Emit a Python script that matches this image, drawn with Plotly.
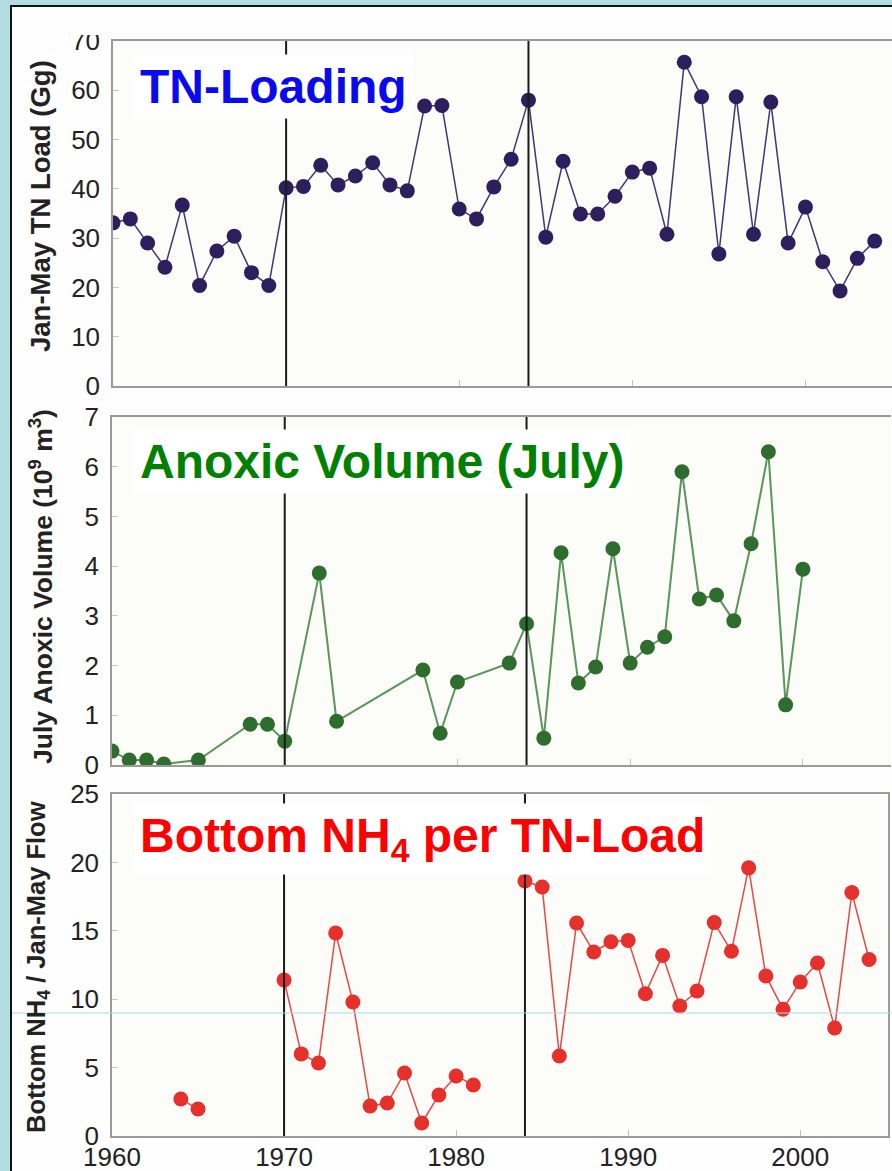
import plotly.graph_objects as go

# ---------------- data ----------------
tn_years = list(range(1960, 2005))
tn_load = [33.1, 33.9, 29.0, 24.1, 36.7, 20.4, 27.4, 30.4, 23.0, 20.4,
           40.2, 40.5, 44.8, 40.8, 42.6, 45.3, 40.8, 39.6, 56.8, 56.9,
           35.9, 33.9, 40.4, 46.0, 58.0, 30.2, 45.6, 34.9, 34.9, 38.5,
           43.4, 44.2, 30.8, 65.7, 58.7, 26.8, 58.7, 30.8, 57.6, 29.0,
           36.3, 25.2, 19.3, 25.9, 29.4]

anox_years = [1960, 1961, 1962, 1963, 1965, 1968, 1969, 1970, 1972, 1973,
              1978, 1979, 1980, 1983, 1984, 1985, 1986, 1987, 1988, 1989,
              1990, 1991, 1992, 1993, 1994, 1995, 1996, 1997, 1998, 1999, 2000]
anox_vol = [0.28, 0.10, 0.10, 0.02, 0.10, 0.82, 0.82, 0.48, 3.86, 0.88,
            1.91, 0.64, 1.67, 2.05, 2.84, 0.54, 4.27, 1.65, 1.97, 4.35,
            2.05, 2.37, 2.58, 5.90, 3.34, 3.42, 2.90, 4.45, 6.30, 1.21, 3.94]

nh4_years = list(range(1964, 2005))
nh4_ratio = [2.7, 1.97, None, None, None, None,
             11.4, 6.0, 5.34, 14.84, 9.8, 2.19, 2.41, 4.6, 0.95, 3.0,
             4.39, 3.73, None, None, 18.64, 18.2, 5.85, 15.57, 13.45, 14.2,
             14.3, 10.4, 13.2, 9.5, 10.6, 15.6, 13.5, 19.6, 11.7, 9.27,
             11.26, 12.65, 7.9, 17.8, 12.9]

x_ticks = [1960, 1970, 1980, 1990, 2000]
break_years = [1970, 1984]

panel_titles = ["<b>TN-Loading</b>", "<b>Anoxic Volume (July)</b>",
                "<b>Bottom NH<sub>4</sub> per TN-Load</b>"]
y_titles = ["<b>Jan-May TN Load (Gg)</b>",
            "<b>July Anoxic Volume (10<sup>9</sup> m<sup>3</sup>)</b>",
            "<b>Bottom NH<sub>4</sub> / Jan-May Flow</b>"]

# ---------------- layout helpers ----------------
W, H = 892, 1171
FONT = "Liberation Sans, Arial, sans-serif"


def px(x):
    return x / W


def py(y):
    return 1 - y / H


fig = go.Figure()

fig.add_trace(go.Scatter(x=tn_years, y=tn_load, mode="lines+markers",
                         line=dict(color="#3f3777", width=1.5),
                         marker=dict(color="#2b1f5e", size=15),
                         xaxis="x", yaxis="y", showlegend=False))
fig.add_trace(go.Scatter(x=anox_years, y=anox_vol, mode="lines+markers",
                         line=dict(color="#5a955a", width=2),
                         marker=dict(color="#2e6d2e", size=15),
                         xaxis="x2", yaxis="y2", showlegend=False))
fig.add_trace(go.Scatter(x=nh4_years, y=nh4_ratio, mode="lines+markers",
                         line=dict(color="#e24a48", width=1.5),
                         marker=dict(color="#e5302c", size=15),
                         xaxis="x3", yaxis="y3", showlegend=False))

common_x = dict(range=[1960, 2005.1], tickvals=x_ticks, ticks="inside",
                ticklen=6, tickcolor="#c0c0c0", showgrid=False, zeroline=False,
                showline=True, linecolor="#9a9a9a", linewidth=1.5,
                automargin=False,
                tickfont=dict(family=FONT, size=26, color="#222"))
common_y = dict(ticks="inside", ticklen=6, tickcolor="#c8c8c8", showgrid=False,
                zeroline=False, showline=True, linecolor="#9a9a9a", linewidth=1.5,
                automargin=False,
                tickfont=dict(family=FONT, size=26, color="#222"),
                ticklabelstandoff=6)

fig.update_layout(
    width=W, height=H,
    margin=dict(l=0, r=0, t=0, b=0, pad=0),
    paper_bgcolor="#fefefe",
    plot_bgcolor="#fcfcf9",
    xaxis=dict(common_x, domain=[px(113), 1.0], range=[1960, 2005.0],
               anchor="y", showticklabels=False, mirror=True),
    yaxis=dict(common_y, domain=[py(386), py(41)], range=[0, 70], dtick=10,
               anchor="x"),
    xaxis2=dict(common_x, domain=[px(112), px(891)], anchor="y2",
                showticklabels=False, mirror=True),
    yaxis2=dict(common_y, domain=[py(765), py(417)], range=[0, 7], dtick=1,
                anchor="x2"),
    xaxis3=dict(common_x, domain=[px(112), px(888)], anchor="y3",
                showticklabels=True, mirror=True, ticklabelstandoff=-3),
    yaxis3=dict(common_y, domain=[py(1136), py(794)], range=[0, 25], dtick=5,
                anchor="x3", mirror=True),
)

# vertical break lines in each panel
for xref, yref in [("x", "y"), ("x2", "y2"), ("x3", "y3")]:
    for yr in break_years:
        fig.add_shape(type="line", xref=xref, yref=yref + " domain",
                      x0=yr, x1=yr, y0=0, y1=1,
                      line=dict(color="#1a1a1a", width=2))

# slide frame: light-blue margins and black border
fig.add_shape(type="rect", xref="paper", yref="paper", x0=0, x1=px(10),
              y0=0, y1=1, fillcolor="#b4dce3", line=dict(width=0), layer="below")
fig.add_shape(type="rect", xref="paper", yref="paper", x0=0, x1=1,
              y0=py(5), y1=1, fillcolor="#b4dce3", line=dict(width=0), layer="below")
fig.add_shape(type="line", xref="paper", yref="paper", x0=px(11), x1=px(11),
              y0=0, y1=py(5), line=dict(color="#111", width=2))
fig.add_shape(type="line", xref="paper", yref="paper", x0=px(10), x1=1,
              y0=py(6), y1=py(6), line=dict(color="#111", width=2))
# clipped top of the "70" label
fig.add_shape(type="rect", xref="paper", yref="paper", x0=px(40), x1=px(110),
              y0=py(35), y1=py(7), fillcolor="#fefefe", line=dict(width=0),
              layer="above")
# thin cyan scan line across lower panel
fig.add_shape(type="line", xref="paper", yref="paper", x0=px(12), x1=1,
              y0=py(1013), y1=py(1013), line=dict(color="#a6dbe3", width=1),
              layer="above")

# panel titles with white boxes
title_specs = [("#0a0af0", 86), ("#008000", 461), ("#ff0000", 839)]
for txt, (col, yc) in zip(panel_titles, title_specs):
    fig.add_annotation(text=txt, xref="paper", yref="paper", x=px(134), y=py(yc),
                       xanchor="left", yanchor="middle", showarrow=False,
                       font=dict(family=FONT, size=48, color=col),
                       bgcolor="#ffffff", borderpad=5)

# y-axis titles
for txt, (xc, yc, fs) in zip(y_titles, [(40, 206, 27.5), (41, 587, 26.5),
                                        (38, 967, 25.5)]):
    fig.add_annotation(text=txt, xref="paper", yref="paper", x=px(xc), y=py(yc),
                       xanchor="center", yanchor="middle", showarrow=False,
                       textangle=-90, font=dict(family=FONT, size=fs, color="#222"))

fig.write_html("out.html")
